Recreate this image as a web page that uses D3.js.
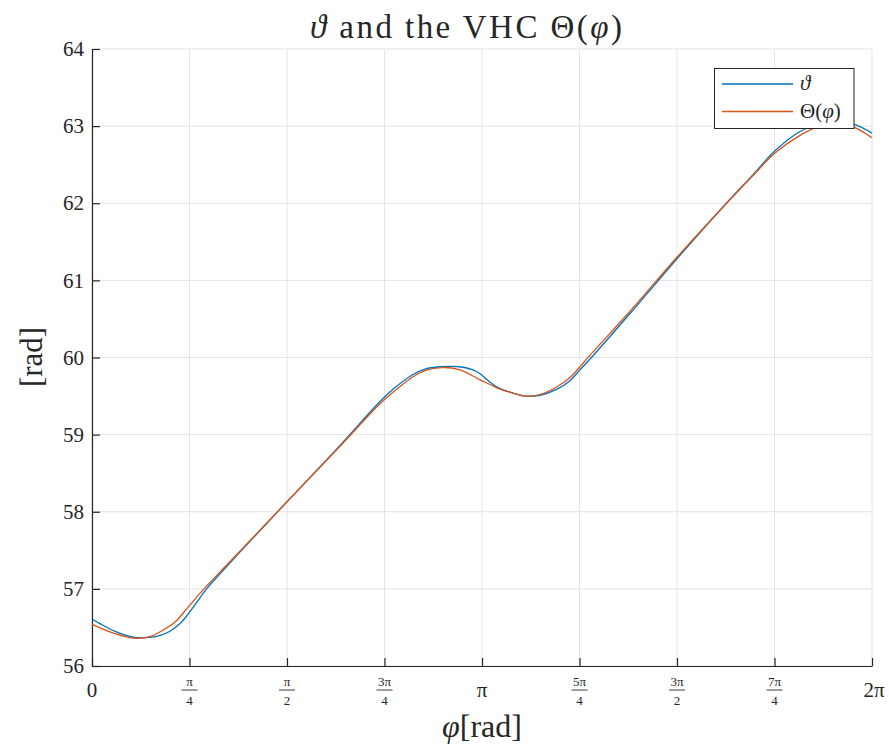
<!DOCTYPE html>
<html><head><meta charset="utf-8">
<script src="https://cdn.jsdelivr.net/npm/d3@7"></script>
<style>
body{margin:0;background:#fff;}
text{font-family:"Liberation Serif","Times New Roman",serif;fill:#262626;font-weight:normal;}
</style></head>
<body><svg id="c" width="889" height="749"></svg>
<script>
// data (phi in rad, values in rad)
const phiTheta = [0.000,0.064,0.185,0.346,0.467,0.556,0.628,0.709,0.773,0.846,0.918,1.136,1.571,1.998,2.320,2.441,2.586,2.682,2.803,2.964,3.069,3.126,3.206,3.271,3.367,3.488,3.609,3.746,3.850,3.931,4.012,4.334,4.712,5.059,5.325,5.502,5.703,5.864,6.025,6.146,6.283];
const theta =    [56.61,56.55,56.45,56.37,56.37,56.40,56.45,56.55,56.67,56.83,56.99,57.38,58.13,58.86,59.43,59.61,59.78,59.85,59.88,59.88,59.84,59.79,59.68,59.61,59.55,59.50,59.51,59.59,59.70,59.84,59.98,60.57,61.28,61.91,62.37,62.68,62.93,63.03,63.05,63.02,62.91];
const phiVHC = [0.000,0.185,0.346,0.467,0.556,0.669,0.773,0.902,1.128,1.571,1.998,2.320,2.441,2.586,2.682,2.819,2.964,3.069,3.126,3.206,3.271,3.367,3.488,3.609,3.746,3.850,3.931,4.012,4.334,4.712,5.059,5.325,5.502,5.703,5.864,6.049,6.146,6.283];
const vhc =    [56.54,56.42,56.36,56.38,56.45,56.57,56.76,57.00,57.38,58.13,58.85,59.40,59.57,59.75,59.83,59.87,59.84,59.76,59.71,59.65,59.60,59.55,59.50,59.52,59.62,59.74,59.88,60.03,60.60,61.30,61.91,62.36,62.65,62.88,63.00,63.03,62.98,62.85];
const xTickNum = [0,1,2,3,4,5,6,7,8]; // multiples of pi/4
const xTickLabels = [["0"],["π","4"],["π","2"],["3π","4"],["π"],["5π","4"],["3π","2"],["7π","4"],["2π"]];
const yTicks = [56,57,58,59,60,61,62,63,64];
const seriesNames = ["ϑ","Θ(φ)"];
const colors = ["#0072BD","#D95319"];

const svg = d3.select("#c");
const L=92,R=872,T=49,B=666;
const x = d3.scaleLinear().domain([0,2*Math.PI]).range([L,R]);
const y = d3.scaleLinear().domain([56,64]).range([B,T]);

// grid
const g = svg.append("g");
g.selectAll(".gx").data(xTickNum).enter().append("line")
 .attr("x1",d=>x(d*Math.PI/4)).attr("x2",d=>x(d*Math.PI/4)).attr("y1",T).attr("y2",B)
 .attr("stroke","#e3e3e3").attr("stroke-width",1);
g.selectAll(".gy").data(yTicks).enter().append("line")
 .attr("y1",d=>y(d)).attr("y2",d=>y(d)).attr("x1",L).attr("x2",R)
 .attr("stroke","#e3e3e3").attr("stroke-width",1);

// axes
const xAxis = d3.axisBottom(x).tickValues(xTickNum.map(d=>d*Math.PI/4)).tickSizeInner(-8).tickSizeOuter(0).tickFormat("");
const xa = svg.append("g").attr("transform",`translate(0,${B})`).call(xAxis);
const yAxis = d3.axisLeft(y).tickValues(yTicks).tickSizeInner(-8).tickSizeOuter(0).tickFormat(d3.format("d"));
const ya = svg.append("g").attr("transform",`translate(${L},0)`).call(yAxis);
[xa,ya].forEach(a=>{a.select(".domain").attr("stroke","#262626").attr("stroke-width",1.2);
 a.selectAll(".tick line").attr("stroke","#262626").attr("stroke-width",1.2);});
ya.selectAll(".tick text").attr("x",-8).attr("font-size",21).attr("fill","#262626")
 .style("font-family",'"Liberation Serif",serif');

// x tick labels (fractions)
const xl = svg.append("g");
xTickNum.forEach((k,i)=>{
  const lab = xTickLabels[i], cx = x(k*Math.PI/4);
  if(lab.length===1){
    xl.append("text").attr("x",cx + (k===8?2:0)).attr("y",B+31).attr("text-anchor","middle")
      .attr("font-size",21).text(lab[0]);
  } else {
    xl.append("text").attr("x",cx).attr("y",B+20).attr("text-anchor","middle").attr("font-size",13).text(lab[0]);
    xl.append("line").attr("x1",cx-8).attr("x2",cx+8).attr("y1",B+24).attr("y2",B+24).attr("stroke","#262626").attr("stroke-width",0.9);
    xl.append("text").attr("x",cx).attr("y",B+39).attr("text-anchor","middle").attr("font-size",13).text(lab[1]);
  }
});

// lines
const line = d3.line().curve(d3.curveCatmullRom.alpha(0.5)).x(d=>x(d[0])).y(d=>y(d[1]));
const dataSets = [d3.zip(phiTheta,theta), d3.zip(phiVHC,vhc)];
dataSets.forEach((ds,i)=>{
  svg.append("path").datum(ds).attr("d",line).attr("fill","none")
    .attr("stroke",colors[i]).attr("stroke-width",1.3);
});

// legend
const lg = svg.append("g");
lg.append("rect").attr("x",714.5).attr("y",68.5).attr("width",139.5).attr("height",60)
  .attr("fill","#fff").attr("stroke","#262626").attr("stroke-width",1);
seriesNames.forEach((n,i)=>{
  const yy = 84 + i*27.5;
  lg.append("line").attr("x1",722).attr("x2",793).attr("y1",yy).attr("y2",yy)
    .attr("stroke",colors[i]).attr("stroke-width",1.3);
  const t = lg.append("text").attr("x",800).attr("y",yy+6).attr("font-size",21);
  if(i===0){ t.append("tspan").attr("font-style","italic").text("ϑ"); }
  else { t.append("tspan").text("Θ("); t.append("tspan").attr("font-style","italic").text("φ"); t.append("tspan").text(")"); }
});

// title
const tt = svg.append("text").attr("x",466).attr("y",38).attr("text-anchor","middle").attr("font-size",33)
  .attr("textLength",312).attr("lengthAdjust","spacing");
tt.append("tspan").attr("font-style","italic").text("ϑ");
tt.append("tspan").text(" and the VHC Θ(");
tt.append("tspan").attr("font-style","italic").text("φ");
tt.append("tspan").text(")");

// axis labels
const xlab = svg.append("text").attr("x",482).attr("y",737).attr("text-anchor","middle").attr("font-size",32);
xlab.append("tspan").attr("font-style","italic").text("φ");
xlab.append("tspan").text("[rad]");
svg.append("text").attr("transform","translate(42,357) rotate(-90)").attr("text-anchor","middle")
  .attr("font-size",31).text("[rad]");
</script></body></html>
